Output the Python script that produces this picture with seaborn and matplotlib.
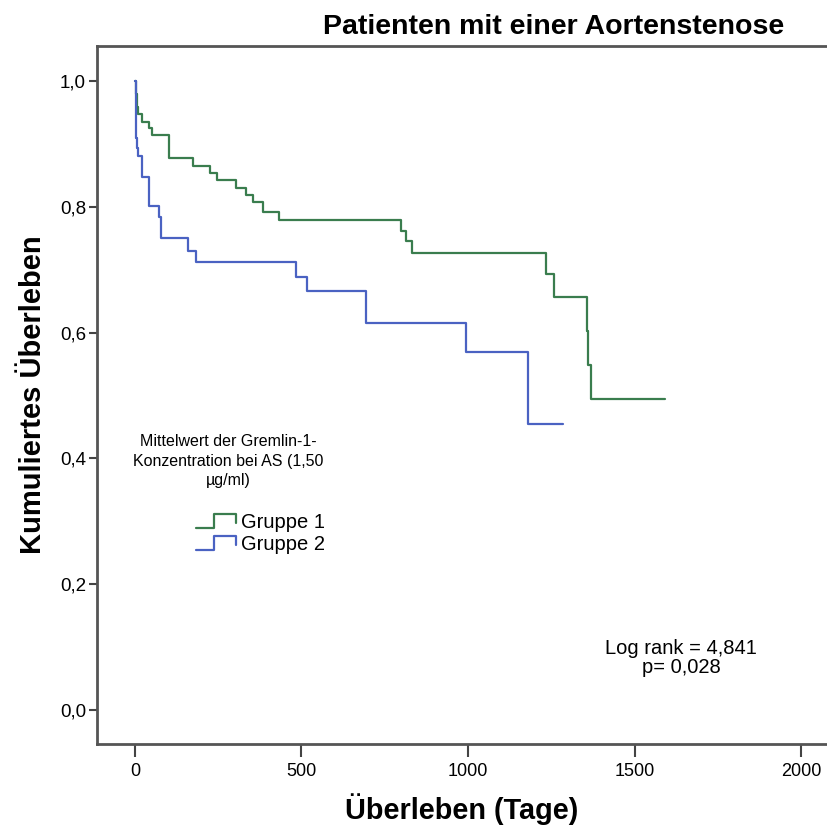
import numpy as np
import pandas as pd
import matplotlib
matplotlib.use('Agg')
import matplotlib.pyplot as plt
from matplotlib.lines import Line2D
from matplotlib.legend_handler import HandlerBase
from matplotlib.ticker import FuncFormatter
import seaborn as sns

# Kaplan-Meier step values (days, cumulative survival)
t_gruppe1 = [0, 3, 5, 10, 20, 43, 50, 102, 173, 225, 247, 302, 332, 355, 383, 432,
             799, 814, 831, 1234, 1258, 1358, 1360, 1368, 1591]
s_gruppe1 = [1.0, 0.980, 0.959, 0.947, 0.935, 0.925, 0.914, 0.878, 0.865, 0.853, 0.843,
             0.830, 0.819, 0.807, 0.792, 0.779, 0.762, 0.745, 0.727, 0.693, 0.657,
             0.602, 0.548, 0.494, 0.494]

t_gruppe2 = [0, 2, 4, 5, 10, 20, 42, 72, 78, 160, 182, 485, 517, 694, 994, 1179, 1286]
s_gruppe2 = [1.0, 0.956, 0.909, 0.894, 0.880, 0.848, 0.802, 0.784, 0.750, 0.730, 0.713,
             0.689, 0.666, 0.615, 0.569, 0.455, 0.455]

groups = ['Gruppe 1', 'Gruppe 2']
colors = ['#3a7d4e', '#4a62c2']

legend_title = 'Mittelwert der Gremlin-1-\nKonzentration bei AS (1,50\nµg/ml)'
stat_text = 'Log rank = 4,841\np= 0,028'

df = pd.concat([
    pd.DataFrame({'tage': t_gruppe1, 'surv': s_gruppe1, 'gruppe': groups[0]}),
    pd.DataFrame({'tage': t_gruppe2, 'surv': s_gruppe2, 'gruppe': groups[1]}),
])

sns.set_style('white')
plt.rcParams['font.family'] = ['Liberation Sans', 'DejaVu Sans']
plt.rcParams['text.color'] = 'black'
plt.rcParams['axes.labelcolor'] = 'black'
plt.rcParams['xtick.labelcolor'] = 'black'
plt.rcParams['ytick.labelcolor'] = 'black'

fig = plt.figure(figsize=(8.27, 8.25), dpi=100)
ax = fig.add_axes([0.1173, 0.0982, 0.8827, 0.846])

sns.lineplot(data=df, x='tage', y='surv', hue='gruppe', palette=colors,
             estimator=None, sort=False, drawstyle='steps-post', linewidth=1.6,
             legend=False, ax=ax)

ax.set_xlim(-114, 2078)
ax.set_ylim(-0.054, 1.0556)
ax.set_xticks([0, 500, 1000, 1500, 2000])
ax.set_yticks([0, 0.2, 0.4, 0.6, 0.8, 1.0])
ax.yaxis.set_major_formatter(FuncFormatter(lambda v, p: ('%.1f' % v).replace('.', ',')))
ax.tick_params(axis='x', direction='out', length=9, width=1.5, color='#444444',
               labelsize=13, pad=5, bottom=True, labelcolor='black')
ax.tick_params(axis='y', direction='out', length=6, width=1.5, color='#444444',
               labelsize=13.5, pad=2, left=True, labelcolor='black')
for side in ['left', 'bottom', 'top']:
    ax.spines[side].set_color('#555555')
    ax.spines[side].set_linewidth(2)
ax.spines['right'].set_visible(False)

ax.set_xlabel('Überleben (Tage)', fontsize=20.8, fontweight='bold', labelpad=9)
ax.set_ylabel('Kumuliertes Überleben', fontsize=21, fontweight='bold', labelpad=9)
fig.text(554 / 827, 1 - 27 / 825, 'Patienten mit einer Aortenstenose',
         ha='center', va='center', fontsize=20.5, fontweight='bold')


class StepHandler(HandlerBase):
    def create_artists(self, legend, orig_handle, xdescent, ydescent, width, height,
                       fontsize, trans):
        x0 = -xdescent
        y0 = -ydescent
        xs = [x0, x0 + 0.45 * width, x0 + 0.45 * width, x0 + width, x0 + width]
        ys = [y0, y0, y0 + height, y0 + height, y0 + 0.35 * height]
        line = Line2D(xs, ys, color=orig_handle.get_color(), linewidth=1.6)
        line.set_transform(trans)
        return [line]


handles = [Line2D([], [], color=c) for c in colors]
fig.text(228 / 827, 1 - 461 / 825, legend_title, ha='center', va='center',
         fontsize=11.5, linespacing=1.38)
ax.legend(handles, groups, handler_map={Line2D: StepHandler()},
          loc='upper left', bbox_to_anchor=(186 / 827, 1 - 503 / 825),
          bbox_transform=fig.transFigure, frameon=False, fontsize=14.5,
          handlelength=2.0, handleheight=0.7, handletextpad=0.25,
          labelspacing=0.15, borderpad=0)

fig.text(681 / 827, 1 - 658 / 825, stat_text, ha='center', va='center',
         fontsize=14.5, linespacing=0.95)

fig.savefig('out.png', dpi=100)
